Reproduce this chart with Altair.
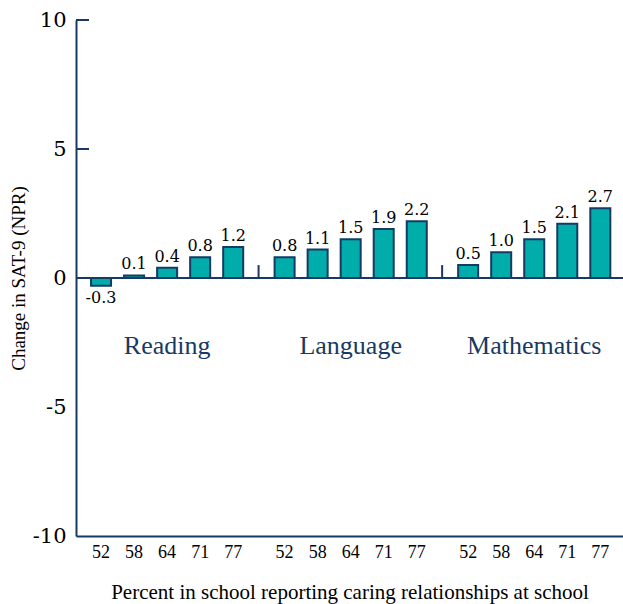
import altair as alt
import pandas as pd

# SAT-9 change by share of students reporting caring relationships at school
subjects = ["Reading", "Language", "Mathematics"]
percent_levels = ["52", "58", "64", "71", "77"]
reading = [-0.3, 0.1, 0.4, 0.8, 1.2]
language = [0.8, 1.1, 1.5, 1.9, 2.2]
mathematics = [0.5, 1.0, 1.5, 2.1, 2.7]
y_ticks = [-10, -5, 0, 5, 10]

NAVY = "#173a63"
TEAL = "#00adab"
SERIF = "DejaVu Serif"
NARROW = "Liberation Serif"
HYPHEN = "replace(datum.label, '\u2212', '-')"

rows = []
for subj, vals in zip(subjects, [reading, language, mathematics]):
    for pct, v in zip(percent_levels, vals):
        rows.append({"subject": subj, "pct": pct, "value": v})
df = pd.DataFrame(rows)

x_enc = alt.X(
    "subject:N",
    sort=subjects,
    scale=alt.Scale(paddingInner=0.1, paddingOuter=0.04, align=0.58),
    axis=alt.Axis(
        title="Percent in school reporting caring relationships at school",
        labels=False, ticks=False, domainColor=NAVY, domainWidth=2,
        titleFont=NARROW, titleFontSize=21, titleFontWeight="normal",
        titleColor="black", titlePadding=45,
    ),
)
xoff = alt.XOffset("pct:N", sort=percent_levels,
                   scale=alt.Scale(paddingInner=0.394, paddingOuter=0.197))
y_scale = alt.Scale(domain=[-10, 10], nice=False, zero=False)

base = alt.Chart(df).transform_calculate(
    label="replace(format(datum.value, '.1f'), '\u2212', '-')"
)

bars = base.mark_bar(color=TEAL, stroke=NAVY, strokeWidth=2).encode(
    x=x_enc,
    xOffset=xoff,
    y=alt.Y(
        "value:Q", scale=y_scale,
        axis=alt.Axis(
            values=y_ticks, ticks=False, grid=False, labelExpr=HYPHEN,
            domainColor=NAVY, domainWidth=2,
            labelFont=SERIF, labelFontSize=21, labelColor="black", labelPadding=10,
            title="Change in SAT-9 (NPR)", titleFont=NARROW, titleFontSize=19,
            titleFontWeight="normal", titleColor="black", titlePadding=4,
        ),
    ),
    y2=alt.datum(0),
)

pos_labels = base.transform_filter("datum.value >= 0").mark_text(
    font=SERIF, fontSize=16, color="black", baseline="bottom", dy=-3
).encode(x=x_enc, xOffset=xoff, y=alt.Y("value:Q", scale=y_scale),
         text="label:N")

neg_labels = base.transform_filter("datum.value < 0").mark_text(
    font=SERIF, fontSize=16, color="black", baseline="top", dy=4
).encode(x=x_enc, xOffset=xoff, y=alt.Y("value:Q", scale=y_scale),
         text="label:N")

pct_labels = base.mark_text(
    font=NARROW, fontSize=18, color="black", baseline="top", dy=8
).encode(x=x_enc, xOffset=xoff, y=alt.datum(-10), text="pct:N")

subj_df = pd.DataFrame({"subject": subjects})
subj_labels = alt.Chart(subj_df).mark_text(
    font=NARROW, fontSize=26, color=NAVY, baseline="middle"
).encode(x=alt.X("subject:N", sort=subjects, bandPosition=0.5),
         y=alt.datum(-2.65), text="subject:N")

zero_line = alt.Chart(subj_df).mark_rule(color=NAVY, strokeWidth=2).encode(
    x=alt.value(0), x2=alt.value(547), y=alt.datum(0)
)

sep_df = pd.DataFrame({"subject": subjects[1:]})
separators = alt.Chart(sep_df).mark_rule(color=NAVY, strokeWidth=2, xOffset=-9.5).encode(
    x=alt.X("subject:N", sort=subjects, bandPosition=0),
    y=alt.datum(0), y2=alt.datum(0.5),
)

tick_df = pd.DataFrame({"tick": [5, 10]})
inner_ticks = alt.Chart(tick_df).mark_rule(color=NAVY, strokeWidth=2).encode(
    x=alt.value(0), x2=alt.value(13), y=alt.Y("tick:Q", scale=y_scale)
)

chart = alt.layer(
    bars, zero_line, separators, inner_ticks, pos_labels, neg_labels,
    pct_labels, subj_labels,
).properties(
    width=547, height=516,
    autosize=alt.AutoSizeParams(type="none"),
    padding={"left": 76, "top": 20, "right": 0, "bottom": 68},
).configure_view(stroke=None)

chart.save("out.html", embed_options={"renderer": "svg", "actions": False})
